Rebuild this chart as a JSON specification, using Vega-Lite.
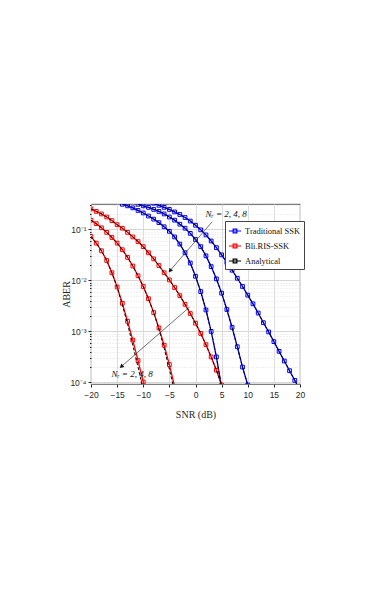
{
  "$schema": "https://vega.github.io/schema/vega-lite/v6.json",
  "autosize": "none",
  "width": 209,
  "height": 180,
  "padding": {"left": 91, "top": 204, "right": 82, "bottom": 215},
  "background": "white",
  "config": {
    "view": {"stroke": "#333333", "strokeWidth": 0.8},
    "axis": {"labelFont": "Liberation Sans", "labelFontSize": 8.5, "labelColor": "#262626", "titleFont": "Liberation Serif", "titleFontSize": 10, "titleFontWeight": "normal", "titleColor": "#262626", "domain": false, "tickColor": "#262626", "labelOverlap": false, "labelFlush": false}
  },
  "datasets": {
    "curves": [
      {"s": "B1", "g": "Traditional SSK", "t": "both", "snr": -14, "ber": 0.309},
      {"s": "B1", "g": "Traditional SSK", "t": "both", "snr": -13, "ber": 0.288},
      {"s": "B1", "g": "Traditional SSK", "t": "both", "snr": -12, "ber": 0.263},
      {"s": "B1", "g": "Traditional SSK", "t": "both", "snr": -11, "ber": 0.234},
      {"s": "B1", "g": "Traditional SSK", "t": "both", "snr": -10, "ber": 0.209},
      {"s": "B1", "g": "Traditional SSK", "t": "both", "snr": -9, "ber": 0.182},
      {"s": "B1", "g": "Traditional SSK", "t": "both", "snr": -8, "ber": 0.158},
      {"s": "B1", "g": "Traditional SSK", "t": "both", "snr": -7, "ber": 0.135},
      {"s": "B1", "g": "Traditional SSK", "t": "both", "snr": -6, "ber": 0.112},
      {"s": "B1", "g": "Traditional SSK", "t": "both", "snr": -5, "ber": 0.0912},
      {"s": "B1", "g": "Traditional SSK", "t": "both", "snr": -4, "ber": 0.0708},
      {"s": "B1", "g": "Traditional SSK", "t": "both", "snr": -3, "ber": 0.0513},
      {"s": "B1", "g": "Traditional SSK", "t": "both", "snr": -2, "ber": 0.0347},
      {"s": "B1", "g": "Traditional SSK", "t": "both", "snr": -1, "ber": 0.0219},
      {"s": "B1", "g": "Traditional SSK", "t": "both", "snr": 0, "ber": 0.012},
      {"s": "B1", "g": "Traditional SSK", "t": "both", "snr": 1, "ber": 0.00603},
      {"s": "B1", "g": "Traditional SSK", "t": "both", "snr": 2, "ber": 0.00263},
      {"s": "B1", "g": "Traditional SSK", "t": "both", "snr": 3, "ber": 0.001},
      {"s": "B1", "g": "Traditional SSK", "t": "both", "snr": 4, "ber": 0.000316},
      {"s": "B1", "g": "Traditional SSK", "t": "both", "snr": 5, "ber": 0.0000794},
      {"s": "B2", "g": "Traditional SSK", "t": "both", "snr": -11, "ber": 0.309},
      {"s": "B2", "g": "Traditional SSK", "t": "both", "snr": -10, "ber": 0.288},
      {"s": "B2", "g": "Traditional SSK", "t": "both", "snr": -9, "ber": 0.269},
      {"s": "B2", "g": "Traditional SSK", "t": "both", "snr": -8, "ber": 0.245},
      {"s": "B2", "g": "Traditional SSK", "t": "both", "snr": -7, "ber": 0.224},
      {"s": "B2", "g": "Traditional SSK", "t": "both", "snr": -6, "ber": 0.2},
      {"s": "B2", "g": "Traditional SSK", "t": "both", "snr": -5, "ber": 0.174},
      {"s": "B2", "g": "Traditional SSK", "t": "both", "snr": -4, "ber": 0.151},
      {"s": "B2", "g": "Traditional SSK", "t": "both", "snr": -3, "ber": 0.126},
      {"s": "B2", "g": "Traditional SSK", "t": "both", "snr": -2, "ber": 0.105},
      {"s": "B2", "g": "Traditional SSK", "t": "both", "snr": -1, "ber": 0.0832},
      {"s": "B2", "g": "Traditional SSK", "t": "both", "snr": 0, "ber": 0.0631},
      {"s": "B2", "g": "Traditional SSK", "t": "both", "snr": 1, "ber": 0.0457},
      {"s": "B2", "g": "Traditional SSK", "t": "both", "snr": 2, "ber": 0.0302},
      {"s": "B2", "g": "Traditional SSK", "t": "both", "snr": 3, "ber": 0.0186},
      {"s": "B2", "g": "Traditional SSK", "t": "both", "snr": 4, "ber": 0.0107},
      {"s": "B2", "g": "Traditional SSK", "t": "both", "snr": 5, "ber": 0.00562},
      {"s": "B2", "g": "Traditional SSK", "t": "both", "snr": 6, "ber": 0.00269},
      {"s": "B2", "g": "Traditional SSK", "t": "both", "snr": 7, "ber": 0.0012},
      {"s": "B2", "g": "Traditional SSK", "t": "both", "snr": 8, "ber": 0.000501},
      {"s": "B2", "g": "Traditional SSK", "t": "both", "snr": 9, "ber": 0.0002},
      {"s": "B2", "g": "Traditional SSK", "t": "both", "snr": 10, "ber": 0.0000891},
      {"s": "B3", "g": "Traditional SSK", "t": "both", "snr": -8, "ber": 0.324},
      {"s": "B3", "g": "Traditional SSK", "t": "both", "snr": -7, "ber": 0.295},
      {"s": "B3", "g": "Traditional SSK", "t": "both", "snr": -6, "ber": 0.269},
      {"s": "B3", "g": "Traditional SSK", "t": "both", "snr": -5, "ber": 0.245},
      {"s": "B3", "g": "Traditional SSK", "t": "both", "snr": -4, "ber": 0.219},
      {"s": "B3", "g": "Traditional SSK", "t": "both", "snr": -3, "ber": 0.195},
      {"s": "B3", "g": "Traditional SSK", "t": "both", "snr": -2, "ber": 0.17},
      {"s": "B3", "g": "Traditional SSK", "t": "both", "snr": -1, "ber": 0.145},
      {"s": "B3", "g": "Traditional SSK", "t": "both", "snr": 0, "ber": 0.12},
      {"s": "B3", "g": "Traditional SSK", "t": "both", "snr": 1, "ber": 0.0977},
      {"s": "B3", "g": "Traditional SSK", "t": "both", "snr": 2, "ber": 0.0776},
      {"s": "B3", "g": "Traditional SSK", "t": "both", "snr": 3, "ber": 0.0589},
      {"s": "B3", "g": "Traditional SSK", "t": "both", "snr": 4, "ber": 0.0437},
      {"s": "B3", "g": "Traditional SSK", "t": "both", "snr": 5, "ber": 0.0316},
      {"s": "B3", "g": "Traditional SSK", "t": "both", "snr": 6, "ber": 0.0224},
      {"s": "B3", "g": "Traditional SSK", "t": "both", "snr": 7, "ber": 0.0158},
      {"s": "B3", "g": "Traditional SSK", "t": "both", "snr": 8, "ber": 0.011},
      {"s": "B3", "g": "Traditional SSK", "t": "both", "snr": 9, "ber": 0.00759},
      {"s": "B3", "g": "Traditional SSK", "t": "both", "snr": 10, "ber": 0.00513},
      {"s": "B3", "g": "Traditional SSK", "t": "both", "snr": 11, "ber": 0.00347},
      {"s": "B3", "g": "Traditional SSK", "t": "both", "snr": 12, "ber": 0.00229},
      {"s": "B3", "g": "Traditional SSK", "t": "both", "snr": 13, "ber": 0.00148},
      {"s": "B3", "g": "Traditional SSK", "t": "both", "snr": 14, "ber": 0.000977},
      {"s": "B3", "g": "Traditional SSK", "t": "both", "snr": 15, "ber": 0.000631},
      {"s": "B3", "g": "Traditional SSK", "t": "both", "snr": 16, "ber": 0.000407},
      {"s": "B3", "g": "Traditional SSK", "t": "both", "snr": 17, "ber": 0.000263},
      {"s": "B3", "g": "Traditional SSK", "t": "both", "snr": 18, "ber": 0.00017},
      {"s": "B3", "g": "Traditional SSK", "t": "both", "snr": 19, "ber": 0.00011},
      {"s": "B3", "g": "Traditional SSK", "t": "both", "snr": 20, "ber": 0.0000708},
      {"s": "R1", "g": "Bli.RIS-SSK", "t": "both", "snr": -20, "ber": 0.251},
      {"s": "R1", "g": "Bli.RIS-SSK", "t": "both", "snr": -19, "ber": 0.224},
      {"s": "R1", "g": "Bli.RIS-SSK", "t": "both", "snr": -18, "ber": 0.2},
      {"s": "R1", "g": "Bli.RIS-SSK", "t": "both", "snr": -17, "ber": 0.174},
      {"s": "R1", "g": "Bli.RIS-SSK", "t": "both", "snr": -16, "ber": 0.148},
      {"s": "R1", "g": "Bli.RIS-SSK", "t": "both", "snr": -15, "ber": 0.123},
      {"s": "R1", "g": "Bli.RIS-SSK", "t": "both", "snr": -14, "ber": 0.105},
      {"s": "R1", "g": "Bli.RIS-SSK", "t": "both", "snr": -13, "ber": 0.0871},
      {"s": "R1", "g": "Bli.RIS-SSK", "t": "both", "snr": -12, "ber": 0.0708},
      {"s": "R1", "g": "Bli.RIS-SSK", "t": "both", "snr": -11, "ber": 0.0575},
      {"s": "R1", "g": "Bli.RIS-SSK", "t": "both", "snr": -10, "ber": 0.0457},
      {"s": "R1", "g": "Bli.RIS-SSK", "t": "both", "snr": -9, "ber": 0.0347},
      {"s": "R1", "g": "Bli.RIS-SSK", "t": "both", "snr": -8, "ber": 0.0263},
      {"s": "R1", "g": "Bli.RIS-SSK", "t": "both", "snr": -7, "ber": 0.0195},
      {"s": "R1", "g": "Bli.RIS-SSK", "t": "both", "snr": -6, "ber": 0.0141},
      {"s": "R1", "g": "Bli.RIS-SSK", "t": "both", "snr": -5, "ber": 0.0102},
      {"s": "R1", "g": "Bli.RIS-SSK", "t": "both", "snr": -4, "ber": 0.00724},
      {"s": "R1", "g": "Bli.RIS-SSK", "t": "both", "snr": -3, "ber": 0.00501},
      {"s": "R1", "g": "Bli.RIS-SSK", "t": "both", "snr": -2, "ber": 0.00339},
      {"s": "R1", "g": "Bli.RIS-SSK", "t": "both", "snr": -1, "ber": 0.00224},
      {"s": "R1", "g": "Bli.RIS-SSK", "t": "both", "snr": 0, "ber": 0.00145},
      {"s": "R1", "g": "Bli.RIS-SSK", "t": "both", "snr": 1, "ber": 0.000912},
      {"s": "R1", "g": "Bli.RIS-SSK", "t": "both", "snr": 2, "ber": 0.00055},
      {"s": "R1", "g": "Bli.RIS-SSK", "t": "both", "snr": 3, "ber": 0.000316},
      {"s": "R1", "g": "Bli.RIS-SSK", "t": "both", "snr": 4, "ber": 0.000174},
      {"s": "R1", "g": "Bli.RIS-SSK", "t": "both", "snr": 5, "ber": 0.0000891},
      {"s": "R2", "g": "Bli.RIS-SSK", "t": "both", "snr": -20, "ber": 0.151},
      {"s": "R2", "g": "Bli.RIS-SSK", "t": "both", "snr": -19, "ber": 0.129},
      {"s": "R2", "g": "Bli.RIS-SSK", "t": "both", "snr": -18, "ber": 0.107},
      {"s": "R2", "g": "Bli.RIS-SSK", "t": "both", "snr": -17, "ber": 0.0871},
      {"s": "R2", "g": "Bli.RIS-SSK", "t": "both", "snr": -16, "ber": 0.0692},
      {"s": "R2", "g": "Bli.RIS-SSK", "t": "both", "snr": -15, "ber": 0.0537},
      {"s": "R2", "g": "Bli.RIS-SSK", "t": "both", "snr": -14, "ber": 0.0398},
      {"s": "R2", "g": "Bli.RIS-SSK", "t": "both", "snr": -13, "ber": 0.0282},
      {"s": "R2", "g": "Bli.RIS-SSK", "t": "both", "snr": -12, "ber": 0.0191},
      {"s": "R2", "g": "Bli.RIS-SSK", "t": "both", "snr": -11, "ber": 0.0123},
      {"s": "R2", "g": "Bli.RIS-SSK", "t": "both", "snr": -10, "ber": 0.00759},
      {"s": "R2", "g": "Bli.RIS-SSK", "t": "both", "snr": -9, "ber": 0.00437},
      {"s": "R2", "g": "Bli.RIS-SSK", "t": "both", "snr": -8, "ber": 0.00234},
      {"s": "R2", "g": "Bli.RIS-SSK", "t": "sim", "snr": -7, "ber": 0.00117},
      {"s": "R2", "g": "Bli.RIS-SSK", "t": "sim", "snr": -6, "ber": 0.000537},
      {"s": "R2", "g": "Bli.RIS-SSK", "t": "sim", "snr": -5, "ber": 0.000224},
      {"s": "R2", "g": "Bli.RIS-SSK", "t": "sim", "snr": -4, "ber": 0.0000832},
      {"s": "R2", "g": "Bli.RIS-SSK", "t": "ana", "snr": -7, "ber": 0.0011},
      {"s": "R2", "g": "Bli.RIS-SSK", "t": "ana", "snr": -6, "ber": 0.000468},
      {"s": "R2", "g": "Bli.RIS-SSK", "t": "ana", "snr": -5, "ber": 0.000182},
      {"s": "R2", "g": "Bli.RIS-SSK", "t": "ana", "snr": -4, "ber": 0.0000661},
      {"s": "R3", "g": "Bli.RIS-SSK", "t": "both", "snr": -20, "ber": 0.0724},
      {"s": "R3", "g": "Bli.RIS-SSK", "t": "both", "snr": -19, "ber": 0.0537},
      {"s": "R3", "g": "Bli.RIS-SSK", "t": "both", "snr": -18, "ber": 0.038},
      {"s": "R3", "g": "Bli.RIS-SSK", "t": "both", "snr": -17, "ber": 0.0245},
      {"s": "R3", "g": "Bli.RIS-SSK", "t": "both", "snr": -16, "ber": 0.0141},
      {"s": "R3", "g": "Bli.RIS-SSK", "t": "both", "snr": -15, "ber": 0.00741},
      {"s": "R3", "g": "Bli.RIS-SSK", "t": "sim", "snr": -14, "ber": 0.00355},
      {"s": "R3", "g": "Bli.RIS-SSK", "t": "sim", "snr": -13, "ber": 0.00158},
      {"s": "R3", "g": "Bli.RIS-SSK", "t": "sim", "snr": -12, "ber": 0.000676},
      {"s": "R3", "g": "Bli.RIS-SSK", "t": "sim", "snr": -11, "ber": 0.000269},
      {"s": "R3", "g": "Bli.RIS-SSK", "t": "sim", "snr": -10, "ber": 0.000102},
      {"s": "R3", "g": "Bli.RIS-SSK", "t": "sim", "snr": -9, "ber": 0.0000355},
      {"s": "R3", "g": "Bli.RIS-SSK", "t": "ana", "snr": -14, "ber": 0.00331},
      {"s": "R3", "g": "Bli.RIS-SSK", "t": "ana", "snr": -13, "ber": 0.00138},
      {"s": "R3", "g": "Bli.RIS-SSK", "t": "ana", "snr": -12, "ber": 0.000537},
      {"s": "R3", "g": "Bli.RIS-SSK", "t": "ana", "snr": -11, "ber": 0.0002},
      {"s": "R3", "g": "Bli.RIS-SSK", "t": "ana", "snr": -10, "ber": 0.0000708}
    ],
    "notes": [
      {"snr": 1.9, "ber": 0.2, "txt": "Nᵣ = 2, 4, 8"},
      {"snr": -16.1, "ber": 0.000148, "txt": "Nᵣ = 2, 4, 8"}
    ],
    "arrows": [
      {"a": "up", "snr": 3.2, "ber": 0.141, "snr2": -4.8, "ber2": 0.0158},
      {"a": "low", "snr": -1.1, "ber": 0.00302, "snr2": -14.1, "ber2": 0.000209}
    ],
    "heads": [
      {"a": "up", "snr": -4.8, "ber": 0.0158},
      {"a": "low", "snr": -14.1, "ber": 0.000209}
    ],
    "legend": [
      {"leg": "Traditional SSK"}, {"leg": "Bli.RIS-SSK"}, {"leg": "Analytical"}
    ]
  },
  "encoding": {
    "x": {"field": "snr", "type": "quantitative", "scale": {"domain": [-20, 20], "nice": false},
      "axis": {"values": [-20, -15, -10, -5, 0, 5, 10, 15, 20], "title": "SNR (dB)", "grid": true, "gridColor": "#dddddd", "tickSize": 3, "labelPadding": 3, "titleY": 25, "labelOverlap": false}},
    "y": {"field": "ber", "type": "quantitative",
      "scale": {"type": "log", "domain": [0.0000933, 0.313], "nice": false},
      "axis": {"title": "ABER", "titleX": -20, "grid": true,
        "values": [0.0001, 0.0002, 0.0003, 0.0004, 0.0005, 0.0006, 0.0007, 0.0008, 0.0009, 0.001, 0.002, 0.003, 0.004, 0.005, 0.006, 0.007, 0.008, 0.009, 0.01, 0.02, 0.03, 0.04, 0.05, 0.06, 0.07, 0.08, 0.09, 0.1, 0.2, 0.3],
        "labelExpr": "abs(log(datum.value)/LN10 - round(log(datum.value)/LN10)) < 0.001 ? '10' + ['⁰','⁻¹','⁻²','⁻³','⁻⁴'][-round(log(datum.value)/LN10)] : ''",
        "gridDash": {"condition": {"test": "abs(log(datum.value)/LN10 - round(log(datum.value)/LN10)) > 0.001", "value": [1, 2]}, "value": []},
        "gridColor": {"condition": {"test": "abs(log(datum.value)/LN10 - round(log(datum.value)/LN10)) > 0.001", "value": "#e3e3e3"}, "value": "#d6d6d6"},
        "tickSize": {"condition": {"test": "abs(log(datum.value)/LN10 - round(log(datum.value)/LN10)) > 0.001", "value": 1.5}, "value": 3},
        "labelPadding": 2}}
  },
  "layer": [
    {
      "data": {"name": "curves"},
      "transform": [{"filter": "datum.t != 'ana'"}],
      "mark": {"type": "line", "strokeWidth": 1.3, "clip": true},
      "encoding": {
        "color": {"field": "g", "type": "nominal", "legend": null,
          "scale": {"domain": ["Traditional SSK", "Bli.RIS-SSK", "Analytical"], "range": ["#0000ff", "#ff0000", "#000000"]}},
        "detail": {"field": "s"}
      }
    },
    {
      "data": {"name": "curves"},
      "transform": [{"filter": "datum.t != 'ana'"}],
      "mark": {"type": "point", "shape": "square", "filled": false, "size": 14, "strokeWidth": 1, "opacity": 1, "clip": true},
      "encoding": {
        "color": {"field": "g", "type": "nominal", "legend": null}
      }
    },
    {
      "data": {"name": "curves"},
      "transform": [{"filter": "datum.t != 'sim'"}],
      "mark": {"type": "line", "color": "black", "strokeWidth": 1, "strokeDash": [3, 2], "clip": true},
      "encoding": {
        "detail": {"field": "s"}
      }
    },
    {
      "data": {"name": "arrows"},
      "mark": {"type": "rule", "color": "#333333", "strokeWidth": 0.7},
      "encoding": {
        "x2": {"field": "snr2"},
        "y2": {"field": "ber2"}
      }
    },
    {
      "data": {"name": "heads"},
      "transform": [{"filter": "datum.a == 'up'"}],
      "mark": {"type": "point", "shape": "triangle", "filled": true, "color": "#111111", "size": 22, "angle": 221, "opacity": 1},
      "encoding": {}
    },
    {
      "data": {"name": "heads"},
      "transform": [{"filter": "datum.a == 'low'"}],
      "mark": {"type": "point", "shape": "triangle", "filled": true, "color": "#111111", "size": 22, "angle": 229, "opacity": 1},
      "encoding": {}
    },
    {
      "data": {"name": "notes"},
      "mark": {"type": "text", "align": "left", "baseline": "middle", "font": "Liberation Serif", "fontSize": 9, "fontStyle": "italic", "color": "#111111"},
      "encoding": {
        "text": {"field": "txt"}
      }
    },
    {
      "data": {"name": "legend"},
      "mark": {"type": "point", "filled": false, "opacity": 0},
      "encoding": {
        "x": {"value": 0},
        "y": {"value": 0},
        "stroke": {"field": "leg", "type": "nominal",
          "scale": {"domain": ["Traditional SSK", "Bli.RIS-SSK", "Analytical"], "range": ["#0000ff", "#ff0000", "#000000"]},
          "legend": {"orient": "none", "legendX": 134, "legendY": 17, "title": null, "fillColor": "white", "strokeColor": "#444444", "padding": 3, "symbolType": "M-1,0H1M-0.3,-0.3H0.3V0.3H-0.3Z", "symbolSize": 150, "symbolStrokeWidth": 1.2, "symbolOpacity": 1, "symbolFillColor": "transparent", "labelFont": "Liberation Serif", "labelFontSize": 8.5, "labelColor": "#111111", "labelLimit": 0, "rowPadding": 3, "labelOffset": 3}}
      }
    }
  ],
  "resolve": {"legend": {"stroke": "independent"}}
}
